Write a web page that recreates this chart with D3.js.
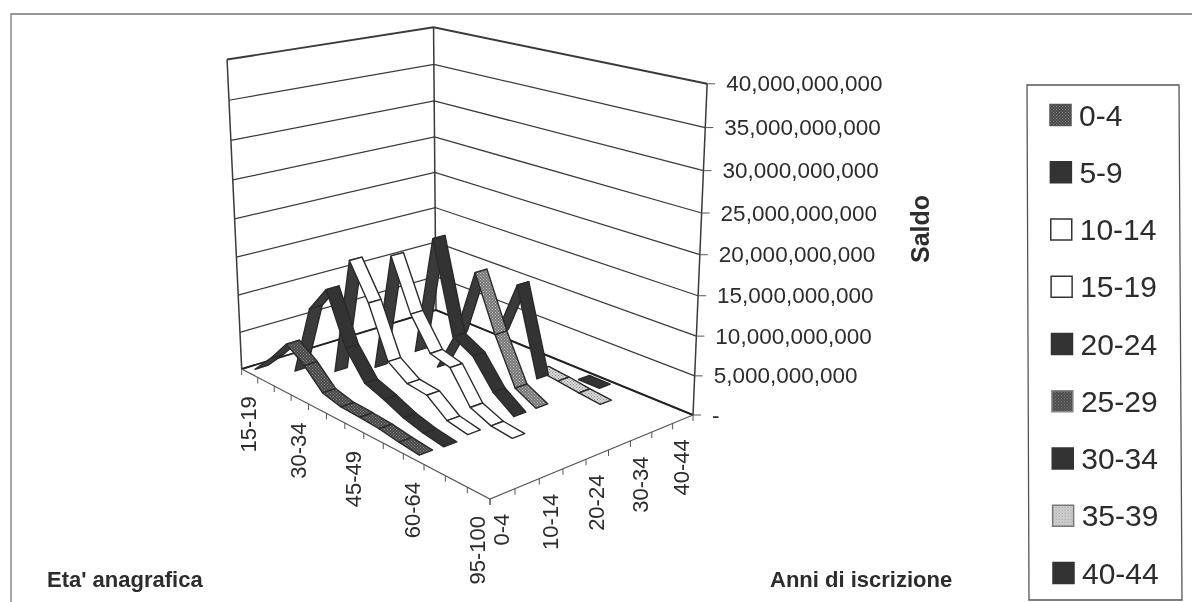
<!DOCTYPE html>
<html>
<head>
	<meta charset="utf-8" />
	<title>Saldo</title>
	<script src="https://d3js.org/d3.v7.min.js"></script>
	<style>
		body { margin: 0; background: #fff; }
		svg { display: block; filter: blur(0.45px); }
		text { font-family: "Liberation Sans", Arial, sans-serif; fill: #2c2c2c; }
	</style>
</head>
<body>
<script>
// values in billions of lire, null = no point
var ageCats = ["15-19","20-24","25-29","30-34","35-39","40-44","45-49","50-54","55-59","60-64","65-69","70-74","95-100"];
var ageLabels = ["15-19","30-34","45-49","60-64","95-100"];
var seriesNames = ["0-4","5-9","10-14","15-19","20-24","25-29","30-34","35-39","40-44"];
var seriesLabels = ["0-4","10-14","20-24","30-34","40-44"];
var valueTicks = [0,5,10,15,20,25,30,35,40];

var s0 = [0.3,2.9,5.9,4.2,1.8,1.2,1.1,0.9,0.5,0.2,null,null,null];
var s1 = [null,0.2,9.6,13.1,6.6,3.2,2.3,1.2,0.5,0.1,null,null,null];
var s2 = [null,null,0.3,16,11.5,5,3.3,3,1,0.5,null,null,null];
var s3 = [null,null,null,1,16.7,10.2,6.2,5.5,1.6,0.5,0.2,null,null];
var s4 = [null,null,null,null,3.3,19,7.4,6,2.5,0.6,null,null,null];
var s5 = [null,null,null,null,0.2,5.8,14.8,7.8,2,0.6,null,null,null];
var s6 = [null,null,null,null,null,null,6,13.3,2.2,null,null,null,null];
var s7 = [null,null,null,null,null,null,null,1.2,0.9,0.5,0.2,null,null];
var s8 = [null,null,null,null,null,null,null,null,0.1,0.1,null,null,null];
var seriesValues = [s0,s1,s2,s3,s4,s5,s6,s7,s8];

var seriesFill = ["url(#texDark)","#333","#fff","#fff","#333","url(#texMid)","#333","url(#texLight)","#333"];
var legendFill = ["url(#texDark)","#333","#fff","#fff","#333","url(#texDark)","#333","url(#texLight)","#333"];
var legendStroke = ["#555","#333","#333","#333","#333","#888","#333","#777","#333"];

var svg = d3.select("body").append("svg")
	.attr("width", 1192)
	.attr("height", 602);

var defs = svg.append("defs");
function texture(id, base, dot) {
	var p = defs.append("pattern")
		.attr("id", id)
		.attr("width", 3)
		.attr("height", 3)
		.attr("patternUnits", "userSpaceOnUse");
	p.append("rect").attr("width", 3).attr("height", 3).attr("fill", base);
	p.append("rect").attr("width", 1).attr("height", 1).attr("fill", dot);
	p.append("rect").attr("x", 1.5).attr("y", 1.5).attr("width", 1).attr("height", 1).attr("fill", dot);
}
texture("texDark", "#484848", "#8a8a8a");
texture("texMid", "#777", "#c4c4c4");
texture("texLight", "#d8d8d8", "#8c8c8c");

// outer frame of the scanned page, runs off the right and the bottom
svg.append("path")
	.attr("d", "M11,640V14H1200")
	.attr("fill", "none")
	.attr("stroke", "#777")
	.attr("stroke-width", 1.3);

// floor corners on screen, from them a perspective mapping
var L = [241.7,369], F = [490,499], R = [693,415], B = [436,310];
var vp = [480,5405], q = -0.0579;
var dx1 = F[0]-R[0], dx2 = B[0]-R[0], sx = L[0]-F[0]+R[0]-B[0];
var dy1 = F[1]-R[1], dy2 = B[1]-R[1], sy = L[1]-F[1]+R[1]-B[1];
var det = dx1*dy2 - dx2*dy1;
var g = (sx*dy2 - dx2*sy)/det, h = (dx1*sy - sx*dy1)/det;
var a = F[0]-L[0]+g*F[0], b = B[0]-L[0]+h*B[0];
var d = F[1]-L[1]+g*F[1], e = B[1]-L[1]+h*B[1];

function project(u, v, t) {
	var w = g*u + h*v + 1 + t*q;
	return [(a*u + b*v + L[0] + t*q*vp[0])/w, (d*u + e*v + L[1] + t*q*vp[1])/w];
}

var ageScale = d3.scaleBand().domain(ageCats).range([0,1]);
var seriesScale = d3.scaleBand().domain(seriesNames).range([0,1]).paddingInner(0.46).paddingOuter(0.23);
var seriesEdge = d3.scaleLinear().domain([0,seriesNames.length]).range([0,1]);
var ageEdge = d3.scaleLinear().domain([0,ageCats.length]).range([0,1]);
var valueScale = d3.scaleLinear().domain([0,40]).range([0,1]);

var line = d3.line();
var walls = svg.append("g").attr("fill", "none").attr("stroke", "#3a3a3a");

// grid on both walls
walls.selectAll("path.grid")
	.data(valueTicks)
	.enter()
	.append("path")
	.attr("class", "grid")
	.attr("stroke-width", function(t){ return t == 40 ? 1.9 : 1.25; })
	.attr("d", function(t){
		var z = valueScale(t);
		return line([project(0,0,z), project(0,1,z), project(1,1,z)]);
	});

// wall uprights and floor edges
walls.append("path").attr("stroke-width", 1.5).attr("d", line([project(0,0,0), project(0,0,1)]));
walls.append("path").attr("stroke-width", 1.5).attr("d", line([project(0,1,0), project(0,1,1)]));
walls.append("path").attr("stroke-width", 1.5).attr("d", line([project(1,1,0), project(1,1,1)]));
walls.append("path").attr("stroke-width", 1.9).attr("stroke", "#222").attr("d", line([project(0,0,0), project(0,1,0), project(1,1,0)]));
walls.append("path").attr("stroke-width", 1.2).attr("stroke", "#555").attr("d", line([project(0,0,0), project(1,0,0), project(1,1,0)]));

// ticks
var ticks = svg.append("g").attr("stroke", "#555").attr("stroke-width", 1);
ticks.selectAll("line.age")
	.data(d3.range(ageCats.length + 1))
	.enter()
	.append("line")
	.attr("x1", function(i){ return project(ageEdge(i),0,0)[0]; })
	.attr("y1", function(i){ return project(ageEdge(i),0,0)[1]; })
	.attr("x2", function(i){ return project(ageEdge(i),0,0)[0]; })
	.attr("y2", function(i){ return project(ageEdge(i),0,0)[1] + 6; });
ticks.selectAll("line.ser")
	.data(d3.range(seriesNames.length + 1))
	.enter()
	.append("line")
	.attr("x1", function(i){ return project(1,seriesEdge(i),0)[0]; })
	.attr("y1", function(i){ return project(1,seriesEdge(i),0)[1]; })
	.attr("x2", function(i){ return project(1,seriesEdge(i),0)[0]; })
	.attr("y2", function(i){ return project(1,seriesEdge(i),0)[1] + 6; });
ticks.selectAll("line.val")
	.data(valueTicks)
	.enter()
	.append("line")
	.attr("x1", function(t){ return project(1,1,valueScale(t))[0]; })
	.attr("y1", function(t){ return project(1,1,valueScale(t))[1]; })
	.attr("x2", function(t){ return project(1,1,valueScale(t))[0] + 8; })
	.attr("y2", function(t){ return project(1,1,valueScale(t))[1]; });

// ribbons, far series first, far ages first
var segs = [];
d3.range(seriesNames.length - 1, -1, -1).forEach(function(s){
	var v0 = seriesScale(seriesNames[s]), v1 = v0 + seriesScale.bandwidth();
	seriesValues[s].forEach(function(val, k){
		var next = seriesValues[s][k+1];
		if (val == null || next == null) return;
		var u0 = ageScale(ageCats[k]) + ageScale.bandwidth()/2;
		var u1 = ageScale(ageCats[k+1]) + ageScale.bandwidth()/2;
		var t0 = valueScale(val), t1 = valueScale(next);
		segs.push({ s: s, pts: [project(u0,v0,t0), project(u1,v0,t1), project(u1,v1,t1), project(u0,v1,t0)] });
	});
});

svg.append("g").selectAll("path")
	.data(segs)
	.enter()
	.append("path")
	.attr("d", function(o){ return line(o.pts) + "Z"; })
	.attr("fill", function(o){
		// d3 area is positive for the top face, negative when seen from below
		return d3.polygonArea(o.pts) > 0 ? seriesFill[o.s] : "#3a3a3a";
	})
	.attr("stroke", "#2a2a2a")
	.attr("stroke-width", 1.4)
	.attr("stroke-linejoin", "round");

// tick labels
function vertical(sel, size) {
	sel.attr("text-anchor", "end")
		.attr("font-size", size)
		.attr("dominant-baseline", "central");
}
svg.append("g").selectAll("text")
	.data(ageLabels)
	.enter()
	.append("text")
	.call(vertical, 22)
	.attr("transform", function(c){
		var p = project(ageScale(c) + ageScale.bandwidth()/2, 0, 0);
		return "translate(" + (p[0]-1) + "," + (p[1]+23) + ") rotate(-90)";
	})
	.text(function(c){ return c; });

svg.append("g").selectAll("text")
	.data(seriesLabels)
	.enter()
	.append("text")
	.call(vertical, 22)
	.attr("transform", function(c){
		var i = seriesNames.indexOf(c);
		var p = project(1, seriesEdge(i + 0.5), 0);
		return "translate(" + (p[0]-1) + "," + (p[1]+20) + ") rotate(-90)";
	})
	.text(function(c){ return c; });

var fmt = d3.format(",");
svg.append("g").selectAll("text")
	.data(valueTicks)
	.enter()
	.append("text")
	.attr("font-size", 22.5)
	.attr("dominant-baseline", "central")
	.attr("x", function(t){ return project(1,1,valueScale(t))[0] + 19; })
	.attr("y", function(t){ return project(1,1,valueScale(t))[1]; })
	.text(function(t){ return t == 0 ? "-" : fmt(t*1e9); });

// axis titles
svg.append("text")
	.attr("transform", "translate(929,229) rotate(-90)")
	.attr("text-anchor", "middle")
	.attr("font-size", 25)
	.attr("font-weight", "bold")
	.text("Saldo");
svg.append("text")
	.attr("x", 47)
	.attr("y", 587)
	.attr("font-size", 22)
	.attr("font-weight", "bold")
	.text("Eta' anagrafica");
svg.append("text")
	.attr("x", 770)
	.attr("y", 587)
	.attr("font-size", 22)
	.attr("font-weight", "bold")
	.text("Anni di iscrizione");

// legend
var legendY = d3.scalePoint().domain(seriesNames).range([115,573]);
var legendX = d3.scaleLinear().domain([115,573]).range([1050,1053]);
svg.append("path")
	.attr("d", "M1027,85H1179L1182,600H1029Z")
	.attr("fill", "#fff")
	.attr("stroke", "#555")
	.attr("stroke-width", 1.3);
var item = svg.append("g").selectAll("g")
	.data(seriesNames)
	.enter()
	.append("g")
	.attr("transform", function(c){
		var y = legendY(c);
		return "translate(" + legendX(y) + "," + y + ")";
	});
item.append("rect")
	.attr("x", 0)
	.attr("y", -10.5)
	.attr("width", 21)
	.attr("height", 21)
	.attr("fill", function(c,i){ return legendFill[i]; })
	.attr("stroke", function(c,i){ return legendStroke[i]; })
	.attr("stroke-width", 1.5);
item.append("text")
	.attr("x", 29)
	.attr("font-size", 30)
	.attr("dominant-baseline", "central")
	.text(function(c){ return c; });
</script>
</body>
</html>
